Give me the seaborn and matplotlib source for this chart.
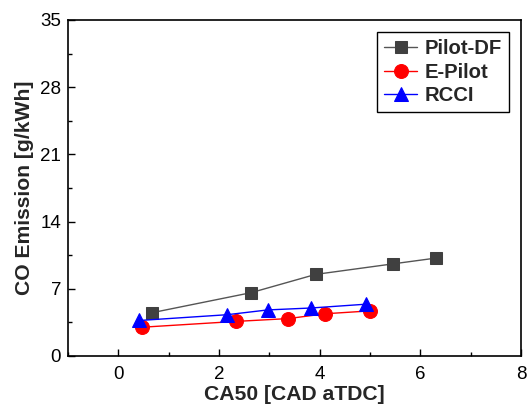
import matplotlib
matplotlib.use("Agg")
import matplotlib.pyplot as plt
import seaborn as sns
import pandas as pd
from matplotlib.ticker import MultipleLocator

sns.set_style("ticks")
plt.rcParams['font.family'] = ['Liberation Sans', 'DejaVu Sans']

pilot_x = [0.66, 2.64, 3.92, 5.46, 6.31]
pilot_y = [4.5, 6.6, 8.5, 9.6, 10.2]
epilot_x = [0.48, 2.33, 3.38, 4.11, 5.0]
epilot_y = [3.0, 3.6, 3.9, 4.4, 4.7]
rcci_x = [0.42, 2.16, 2.97, 3.83, 4.93]
rcci_y = [3.7, 4.3, 4.8, 5.0, 5.4]

series = [
    ("Pilot-DF", pilot_x, pilot_y, "#404040", "#555555", "s", 9),
    ("E-Pilot", epilot_x, epilot_y, "#ff0000", "#ff0000", "o", 10),
    ("RCCI", rcci_x, rcci_y, "#0000ff", "#0000ff", "^", 10.5),
]

fig = plt.figure(figsize=(5.29, 4.12), dpi=100)
ax = fig.add_axes([68/529, 56/412, (521-68)/529, (356-20)/412])

for name, xs, ys, mc, lc, mk, ms in series:
    df = pd.DataFrame({"x": xs, "y": ys})
    sns.lineplot(data=df, x="x", y="y", ax=ax, color=lc, linewidth=1.0,
                 marker=mk, markersize=ms, markerfacecolor=mc,
                 markeredgecolor=mc, label=name, sort=False)

ax.set_xlim(-1, 8)
ax.set_ylim(0, 35)
ax.xaxis.set_major_locator(MultipleLocator(2))
ax.xaxis.set_minor_locator(MultipleLocator(1))
ax.yaxis.set_major_locator(MultipleLocator(7))
ax.yaxis.set_minor_locator(MultipleLocator(3.5))
ax.tick_params(which='both', direction='in', top=False, right=False,
               labelsize=13.5, colors='black')
ax.tick_params(which='major', length=5, width=1)
ax.tick_params(which='minor', length=3, width=1)
ax.tick_params(axis='x', pad=7)
ax.tick_params(axis='y', pad=5)
for s in ax.spines.values():
    s.set_visible(True)
    s.set_color('black')
    s.set_linewidth(1.2)

ax.set_xlabel("CA50 [CAD aTDC]", fontsize=15.2, fontweight='bold', labelpad=2)
ax.set_ylabel("CO Emission [g/kWh]", fontsize=15.2, fontweight='bold', labelpad=4)

leg = ax.legend(loc='upper right', bbox_to_anchor=(0.974, 0.964), fancybox=False,
                edgecolor='black', framealpha=1, prop={'weight': 'bold', 'size': 14.6},
                handlelength=1.6, borderpad=0.35, labelspacing=0.22, handletextpad=0.4,
                borderaxespad=0)
leg.get_frame().set_linewidth(1.0)

fig.savefig("out.png", dpi=100)
